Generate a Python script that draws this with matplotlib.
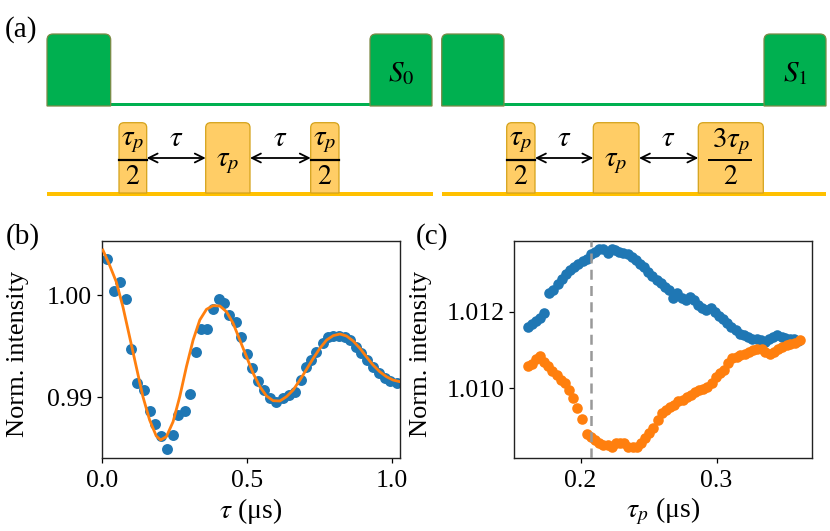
import numpy as np
import matplotlib
matplotlib.use("Agg")
import matplotlib.pyplot as plt
from matplotlib.path import Path
from matplotlib.patches import PathPatch, Rectangle

plt.rcParams['font.family'] = 'serif'
plt.rcParams['font.serif'] = ['Liberation Serif', 'DejaVu Serif']
plt.rcParams['mathtext.fontset'] = 'stix'

# (b) Ramsey-type oscillation: data and fit
tau = [0.018, 0.041, 0.063, 0.082, 0.101, 0.121, 0.144, 0.164, 0.182, 0.205,
       0.224, 0.245, 0.262, 0.285, 0.302, 0.323, 0.340, 0.363, 0.383, 0.402,
       0.421, 0.438, 0.461, 0.480, 0.498, 0.517, 0.538, 0.557, 0.578, 0.601,
       0.624, 0.645, 0.664, 0.685, 0.702, 0.722, 0.739, 0.760, 0.779, 0.797,
       0.817, 0.837, 0.856, 0.875, 0.894, 0.914, 0.934, 0.954, 0.975, 0.994,
       1.015]
intensity_b = [1.00349, 1.00040, 1.00130, 0.99958, 0.99469, 0.99137, 0.99072,
               0.98866, 0.98736, 0.98622, 0.98495, 0.98632, 0.98827, 0.98866,
               0.99029, 0.99446, 0.99668, 0.99668, 0.99866, 0.99958, 0.99919,
               0.99805, 0.99733, 0.99586, 0.99420, 0.99283, 0.99163, 0.99072,
               0.98990, 0.98958, 0.98990, 0.99023, 0.99055, 0.99169, 0.99300,
               0.99365, 0.99446, 0.99528, 0.99593, 0.99599, 0.99599, 0.99593,
               0.99560, 0.99495, 0.99430, 0.99365, 0.99300, 0.99235, 0.99186,
               0.99160, 0.99137]

tau_fit = [0.003, 0.026, 0.049, 0.072, 0.095, 0.118, 0.141, 0.164, 0.187, 0.202,
           0.222, 0.245, 0.268, 0.291, 0.314, 0.337, 0.360, 0.383, 0.406, 0.429,
           0.452, 0.475, 0.498, 0.521, 0.544, 0.567, 0.590, 0.613, 0.636, 0.659,
           0.682, 0.705, 0.728, 0.751, 0.774, 0.797, 0.820, 0.843, 0.866, 0.889,
           0.911, 0.934, 0.957, 0.980, 1.003, 1.026]
fit_b = [1.00440, 1.00293, 1.00130, 0.99886, 0.99593, 0.99300, 0.99007, 0.98779,
         0.98622, 0.98583, 0.98616, 0.98762, 0.99007, 0.99300, 0.99560, 0.99756,
         0.99860, 0.99896, 0.99893, 0.99837, 0.99723, 0.99560, 0.99397, 0.99235,
         0.99104, 0.99013, 0.98967, 0.98964, 0.99007, 0.99072, 0.99169, 0.99274,
         0.99381, 0.99479, 0.99560, 0.99603, 0.99619, 0.99599, 0.99550, 0.99479,
         0.99397, 0.99316, 0.99251, 0.99202, 0.99169, 0.99153]

# (c) intensity vs pulse length for S0 (blue) and S1 (orange)
tp_blue = [0.1610, 0.1640, 0.1669, 0.1701, 0.1733, 0.1767, 0.1799, 0.1831, 0.1860,
           0.1890, 0.1922, 0.1953, 0.1983, 0.2015, 0.2044, 0.2076, 0.2105, 0.2137,
           0.2167, 0.2199, 0.2228, 0.2252, 0.2282, 0.2314, 0.2346, 0.2375, 0.2404,
           0.2436, 0.2468, 0.2498, 0.2527, 0.2559, 0.2588, 0.2620, 0.2650, 0.2681,
           0.2711, 0.2743, 0.2772, 0.2804, 0.2833, 0.2865, 0.2895, 0.2926, 0.2956,
           0.2988, 0.3017, 0.3049, 0.3078, 0.3110, 0.3140, 0.3172, 0.3201, 0.3233,
           0.3262, 0.3294, 0.3324, 0.3355, 0.3385, 0.3417, 0.3446, 0.3478, 0.3507,
           0.3539, 0.3569, 0.3600]
s0 = [1.01161, 1.01167, 1.01176, 1.01185, 1.01196, 1.01248, 1.01258, 1.01272,
      1.01287, 1.01298, 1.01309, 1.01317, 1.01324, 1.01333, 1.01339, 1.01350,
      1.01357, 1.01363, 1.01365, 1.01354, 1.01363, 1.01361, 1.01357, 1.01354,
      1.01350, 1.01343, 1.01335, 1.01324, 1.01316, 1.01304, 1.01294, 1.01284,
      1.01274, 1.01265, 1.01257, 1.01237, 1.01248, 1.01235, 1.01232, 1.01239,
      1.01230, 1.01217, 1.01211, 1.01204, 1.01210, 1.01200, 1.01189, 1.01180,
      1.01171, 1.01161, 1.01152, 1.01143, 1.01139, 1.01133, 1.01130, 1.01128,
      1.01126, 1.01122, 1.01130, 1.01135, 1.01139, 1.01135, 1.01132, 1.01130,
      1.01128, 1.01124]

tp_orange = [0.1610, 0.1640, 0.1669, 0.1701, 0.1733, 0.1762, 0.1792, 0.1824, 0.1853,
             0.1885, 0.1914, 0.1946, 0.1975, 0.2007, 0.2044, 0.2076, 0.2105, 0.2137,
             0.2167, 0.2199, 0.2228, 0.2260, 0.2289, 0.2321, 0.2350, 0.2382, 0.2412,
             0.2444, 0.2473, 0.2505, 0.2534, 0.2566, 0.2596, 0.2627, 0.2657, 0.2689,
             0.2718, 0.2750, 0.2779, 0.2811, 0.2841, 0.2870, 0.2902, 0.2931, 0.2963,
             0.2993, 0.3025, 0.3054, 0.3086, 0.3115, 0.3147, 0.3176, 0.3208, 0.3238,
             0.3270, 0.3299, 0.3331, 0.3360, 0.3392, 0.3422, 0.3453, 0.3483, 0.3515,
             0.3544, 0.3576, 0.3613]
s1 = [1.01059, 1.01063, 1.01076, 1.01084, 1.01070, 1.01058, 1.01046, 1.01035,
      1.01023, 1.01013, 1.00996, 1.00974, 1.00948, 1.00919, 1.00881, 1.00872,
      1.00865, 1.00857, 1.00852, 1.00852, 1.00846, 1.00857, 1.00858, 1.00857,
      1.00848, 1.00846, 1.00848, 1.00857, 1.00870, 1.00883, 1.00896, 1.00917,
      1.00935, 1.00943, 1.00950, 1.00957, 1.00968, 1.00970, 1.00978, 1.00983,
      1.00991, 1.00996, 1.00997, 1.01004, 1.01013, 1.01030, 1.01039, 1.01048,
      1.01065, 1.01078, 1.01083, 1.01087, 1.01091, 1.01096, 1.01100, 1.01102,
      1.01104, 1.01096, 1.01091, 1.01096, 1.01102, 1.01107, 1.01113, 1.01116,
      1.01119, 1.01126]
tp_marker = 0.2075

BLUE = '#1f77b4'
ORANGE = '#ff7f0e'
GREEN = '#00b050'
GREEN_EDGE = '#7b8a45'
PULSE = '#ffcd66'
PULSE_EDGE = '#d4a21a'
PULSE_LINE = '#ffc000'


def top_rounded(ax, x0, x1, ytop, ybot, r, fc, ec):
    verts = [(x0, ybot), (x0, ytop + r), (x0, ytop), (x0 + r, ytop),
             (x1 - r, ytop), (x1, ytop), (x1, ytop + r), (x1, ybot), (x0, ybot)]
    codes = [Path.MOVETO, Path.LINETO, Path.CURVE3, Path.CURVE3,
             Path.LINETO, Path.CURVE3, Path.CURVE3, Path.LINETO, Path.CLOSEPOLY]
    ax.add_patch(PathPatch(Path(verts, codes), fc=fc, ec=ec, lw=0.9, zorder=2))


fig = plt.figure(figsize=(8.3, 5.31), dpi=100)

# ---- (a) pulse sequence diagram, drawn in pixel units ----
axa = fig.add_axes([0, 0, 1, 1])
axa.set_xlim(0, 830)
axa.set_ylim(531, 0)
axa.axis('off')

laser_blocks = [(47, 110.7), (370, 432), (441.7, 504), (764, 826)]
laser_lines = [(47, 432), (441.7, 826)]
mw_blocks = [(119, 146.7), (205.7, 250), (310.7, 339),
             (506.7, 535), (593.3, 639), (698.3, 763.3)]
mw_lines = [(47, 433), (441.7, 826)]

for x0, x1 in laser_lines:
    axa.add_patch(Rectangle((x0, 102.5), x1 - x0, 3.5, fc=GREEN, ec='none', zorder=1))
for x0, x1 in laser_blocks:
    top_rounded(axa, x0, x1, 34, 106, 6, GREEN, GREEN_EDGE)
for x0, x1 in mw_lines:
    axa.add_patch(Rectangle((x0, 192), x1 - x0, 3.5, fc=PULSE_LINE, ec='none', zorder=1))
for x0, x1 in mw_blocks:
    top_rounded(axa, x0, x1, 122.7, 193, 5, PULSE, PULSE_EDGE)

axa.text(401, 74, r'$S_0$', fontsize=21, ha='center', va='center', zorder=3)
axa.text(795, 74, r'$S_1$', fontsize=21, ha='center', va='center', zorder=3)

# labels inside the microwave pulses
frac_labels = [(0, r'$\tau_p$'), (2, r'$\tau_p$'), (3, r'$\tau_p$'), (5, r'$3\tau_p$')]
for i, num in frac_labels:
    x0, x1 = mw_blocks[i]
    xc = 0.5 * (x0 + x1)
    axa.text(xc, 142, num, fontsize=21, ha='center', va='center', zorder=3)
    axa.text(xc, 178, r'$2$', fontsize=20, ha='center', va='center', zorder=3)
    if i == 5:
        axa.plot([709, 751], [160, 160], color='k', lw=1.4, zorder=3)
    else:
        axa.plot([x0, x1], [160, 160], color='k', lw=1.6, zorder=3)
for i in (1, 4):
    x0, x1 = mw_blocks[i]
    axa.text(0.5 * (x0 + x1), 163, r'$\tau_p$', fontsize=21, ha='center',
             va='center', zorder=3)

for a, b in [(0, 1), (1, 2), (3, 4), (4, 5)]:
    xa = mw_blocks[a][1]
    xb = mw_blocks[b][0]
    axa.annotate('', xy=(xb, 158), xytext=(xa, 158),
                 arrowprops=dict(arrowstyle='<->', color='k', lw=1.3,
                                 shrinkA=0, shrinkB=0, mutation_scale=16),
                 zorder=3)
    axa.text(0.5 * (xa + xb), 139, r'$\tau$', fontsize=21, ha='center',
             va='center', zorder=3)

axa.text(21, 30, '(a)', fontsize=21, ha='center', va='center')
axa.text(23, 237, '(b)', fontsize=21, ha='center', va='center')
axa.text(432, 237, '(c)', fontsize=21, ha='center', va='center')

# ---- (b) ----
axb = fig.add_axes([102 / 830, 1 - 458 / 531, 298 / 830, 217 / 531])
axb.scatter(tau, intensity_b, s=62, color=BLUE, zorder=2, linewidths=0)
axb.plot(tau_fit, fit_b, color=ORANGE, lw=2, zorder=3)
axb.set_xlim(0, 1.027)
axb.set_ylim(0.98407, 1.00528)
axb.set_xticks([0.0, 0.5, 1.0])
axb.set_xticklabels(['0.0', '0.5', '1.0'])
axb.set_yticks([0.99, 1.00])
axb.set_yticklabels(['0.99', '1.00'])
axb.set_xlabel(r'$\tau$ (μs)', fontsize=20, labelpad=3)
axb.set_ylabel('Norm. intensity', fontsize=19)
axb.yaxis.set_label_coords(-0.245, 0.48)

# ---- (c) ----
axc = fig.add_axes([514 / 830, 1 - 458 / 531, 297.7 / 830, 217 / 531])
axc.scatter(tp_blue, s0, s=58, color=BLUE, zorder=2, linewidths=0)
axc.scatter(tp_orange, s1, s=58, color=ORANGE, zorder=2, linewidths=0)
axc.axvline(tp_marker, color='#999999', ls='--', lw=1.8, dashes=(4, 2.5), zorder=3)
axc.set_xlim(0.151, 0.370)
axc.set_ylim(1.00818, 1.01385)
axc.set_xticks([0.2, 0.3])
axc.set_xticklabels(['0.2', '0.3'])
axc.set_yticks([1.010, 1.012])
axc.set_yticklabels(['1.010', '1.012'])
axc.set_xlabel(r'$\tau_p$ (μs)', fontsize=20, labelpad=3)
axc.set_ylabel('Norm. intensity', fontsize=19)
axc.yaxis.set_label_coords(-0.275, 0.48)

for ax in (axb, axc):
    ax.tick_params(labelsize=18.5, length=3.5, width=0.9)
    ax.tick_params(axis='x', pad=5)
    for sp in ax.spines.values():
        sp.set_linewidth(1.0)
        sp.set_color('#222222')

fig.savefig('out.png', dpi=100)
